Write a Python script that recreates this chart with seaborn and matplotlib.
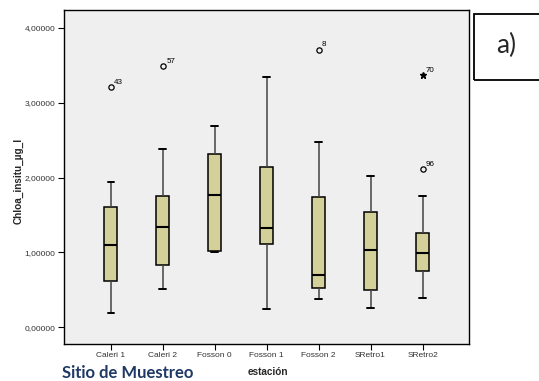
import matplotlib
matplotlib.use("Agg")
import matplotlib.pyplot as plt
import seaborn as sns
import pandas as pd

# Five-number summaries per station (whisker ends, quartiles, median)
stations = ["Caleri 1", "Caleri 2", "Fosson 0", "Fosson 1", "Fosson 2", "SRetro1", "SRetro2"]
whisker_low = [0.196, 0.512, 1.00, 0.25, 0.374, 0.258, 0.397]
q1 = [0.615, 0.833, 1.02, 1.11, 0.53, 0.495, 0.758]
median = [1.096, 1.333, 1.765, 1.32, 0.70, 1.03, 0.99]
q3 = [1.61, 1.755, 2.32, 2.14, 1.74, 1.54, 1.266]
whisker_high = [1.94, 2.38, 2.69, 3.34, 2.48, 2.02, 1.755]

# Outlying cases: station, value, case id, kind
outlier_station = ["Caleri 1", "Caleri 2", "Fosson 2", "SRetro2", "SRetro2"]
outlier_value = [3.21, 3.49, 3.71, 2.11, 3.37]
outlier_id = ["43", "57", "8", "96", "70"]
outlier_kind = ["o", "o", "o", "o", "*"]

y_ticks = [0.0, 1.0, 2.0, 3.0, 4.0]

rows = []
for s, a, b, c, d, e in zip(stations, whisker_low, q1, median, q3, whisker_high):
    for v in (a, b, c, d, e):
        rows.append({"estacion": s, "chloa": v})
df = pd.DataFrame(rows)

sns.set_style("white")
plt.rcParams["font.family"] = ["Liberation Sans", "DejaVu Sans"]

fig = plt.figure(figsize=(5.39, 3.81), dpi=100)
ax = fig.add_axes([0.1187, 0.0979, 0.752, 0.8759])
ax.set_facecolor("#EFEFEF")

sns.boxplot(
    data=df, x="estacion", y="chloa", order=stations, ax=ax,
    whis=(0, 100), width=0.25, color="#D4D09A", saturation=1,
    linewidth=1.1, linecolor="black",
    medianprops={"color": "black", "linewidth": 1.5},
    whiskerprops={"color": "#444444", "linewidth": 1.1},
    capprops={"color": "black", "linewidth": 1.4},
    showfliers=False,
)

pos = {s: i for i, s in enumerate(stations)}
for s, v, lab, k in zip(outlier_station, outlier_value, outlier_id, outlier_kind):
    x = pos[s]
    if k == "o":
        ax.plot(x, v, marker="o", ms=3.8, mfc="none", mec="black", mew=0.9, ls="none")
    else:
        ax.plot(x, v, marker="*", ms=4.5, color="black", ls="none")
    ax.annotate(lab, (x, v), xytext=(2.5, 2.5), textcoords="offset points",
                fontsize=5.8, color="black")

ax.set_xlim(-0.9, 6.9)
ax.set_ylim(-0.22, 4.24)
ax.set_yticks(y_ticks)
ax.set_yticklabels([f"{t:.5f}".replace(".", ",") for t in y_ticks], fontsize=6, color="#333333")
ax.set_xticks(range(len(stations)))
ax.set_xticklabels(stations, fontsize=6, color="#333333")
ax.tick_params(axis="both", direction="out", length=4, width=0.8, color="black",
               bottom=True, left=True, pad=2)
for sp in ax.spines.values():
    sp.set_color("black")
    sp.set_linewidth(1.0)

ax.set_xlabel("")
ax.set_ylabel("")
fig.text(0.034, 0.525, "Chloa_insitu_µg_l", rotation=90, ha="center", va="center",
         fontsize=7.2, fontweight="bold")
fig.text(0.497, 0.024, "estación", ha="center", va="center", fontsize=7.2, fontweight="bold")
fig.text(0.115, 0.02, "Sitio de Muestreo", ha="left", va="center", fontsize=12,
         fontweight="bold", color="#1F3864", family=["Lato", "DejaVu Sans"])

# Panel tag box
fig.patches.append(plt.Rectangle((474 / 539, 1 - 80 / 381), 0.2, 66 / 381,
                                 transform=fig.transFigure, fill=False,
                                 edgecolor="black", linewidth=1.3, zorder=5))
fig.text(506 / 539, 1 - 45 / 381, "a)", ha="center", va="center", fontsize=19,
         family=["Lato", "DejaVu Sans"])

fig.savefig("out.png", dpi=100)
